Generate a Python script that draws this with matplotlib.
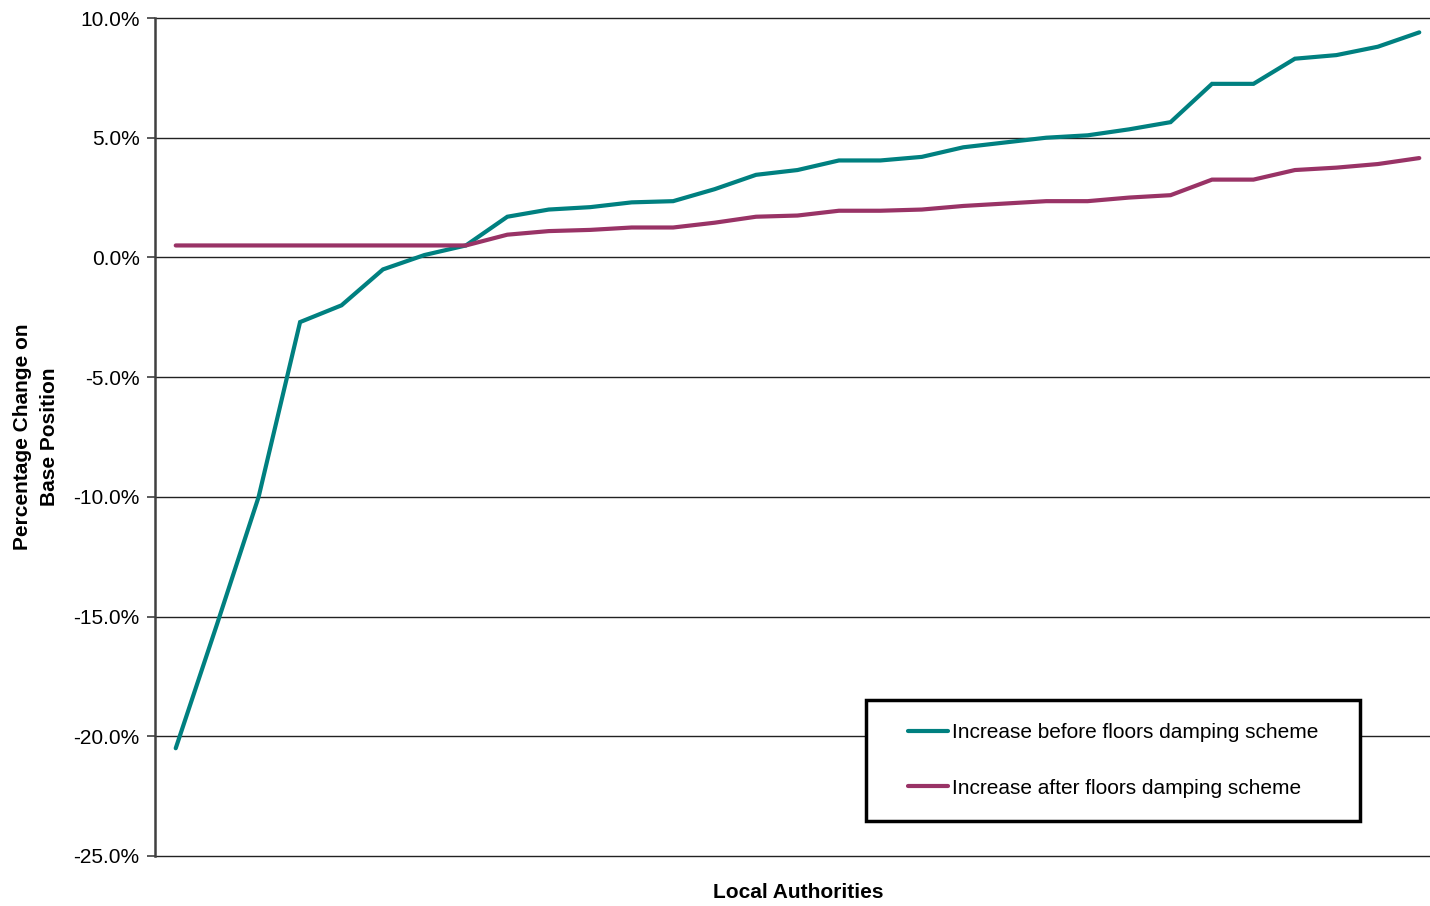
import matplotlib
matplotlib.use("Agg")
import matplotlib.pyplot as plt
from matplotlib.ticker import FuncFormatter
from matplotlib.patches import Rectangle

plt.rcParams['font.family'] = ['Liberation Sans', 'DejaVu Sans']

authorities = list(range(1, 32))
before = [-20.5, -15.3, -10.0, -2.7, -2.0, -0.5, 0.1, 0.5, 1.7, 2.0, 2.1, 2.3, 2.35,
          2.85, 3.45, 3.65, 4.05, 4.05, 4.2, 4.6, 4.8, 5.0, 5.1, 5.35, 5.65, 7.25,
          7.25, 8.3, 8.45, 8.8, 9.4]
after = [0.5, 0.5, 0.5, 0.5, 0.5, 0.5, 0.5, 0.5, 0.95, 1.1, 1.15, 1.25, 1.25,
         1.45, 1.7, 1.75, 1.95, 1.95, 2.0, 2.15, 2.25, 2.35, 2.35, 2.5, 2.6, 3.25,
         3.25, 3.65, 3.75, 3.9, 4.15]
series_names = ["Increase before floors damping scheme",
                "Increase after floors damping scheme"]
yticks = [10, 5, 0, -5, -10, -15, -20, -25]

W, H = 1430, 906
fig = plt.figure(figsize=(W/100, H/100), dpi=100)
ax_l, ax_r, ax_t, ax_b = 155, 1440, 18, 856
ax = fig.add_axes([ax_l/W, 1-ax_b/H, (ax_r-ax_l)/W, (ax_b-ax_t)/H])

ax.plot(authorities, before, color='#008080', lw=3.0, solid_capstyle='round',
        solid_joinstyle='miter', label=series_names[0], zorder=3)
ax.plot(authorities, after, color='#993366', lw=3.0, solid_capstyle='round',
        solid_joinstyle='miter', label=series_names[1], zorder=3)

ax.set_xlim(0.5, 31.5)
ax.set_ylim(-25, 10)
ax.set_yticks(yticks)
ax.yaxis.set_major_formatter(FuncFormatter(lambda v, p: f"{v:.1f}%"))
ax.set_xticks([])
for v in yticks:
    ax.axhline(v, color='#222222', lw=1.0, zorder=1, clip_on=False)
for s in ['top', 'right', 'bottom']:
    ax.spines[s].set_visible(False)
ax.spines['left'].set_color('#404040')
ax.spines['left'].set_linewidth(1.8)
ax.spines['left'].set_zorder(2)
ax.tick_params(axis='y', direction='out', length=6, width=1.2, color='#404040',
               labelsize=15, pad=5)

fig.text(798/W, 1-892/H, "Local Authorities", ha='center', va='center',
         fontsize=15, fontweight='bold')
fig.text(36/W, 1-437/H, "Percentage Change on\nBase Position", ha='center',
         va='center', rotation=90, fontsize=15, fontweight='bold', linespacing=1.55)

# legend box
bx0, bx1, by0, by1 = 866, 1360, 700, 821
def to_ax(px, py):
    return (px-ax_l)/(ax_r-ax_l), (ax_b-py)/(ax_b-ax_t)
x0, y0 = to_ax(bx0, by1)
x1, y1 = to_ax(bx1, by0)
ax.add_patch(Rectangle((x0, y0), x1-x0, y1-y0, transform=ax.transAxes,
                       facecolor='white', edgecolor='black', lw=2.5, zorder=4,
                       clip_on=False))
leg = ax.legend(loc='center', bbox_to_anchor=(x0, y0, x1-x0, y1-y0), fontsize=15,
                frameon=False, handlelength=1.92, handletextpad=0.2,
                labelspacing=1.75, borderaxespad=0)
leg.set_zorder(5)

fig.savefig("out.png", dpi=100)
